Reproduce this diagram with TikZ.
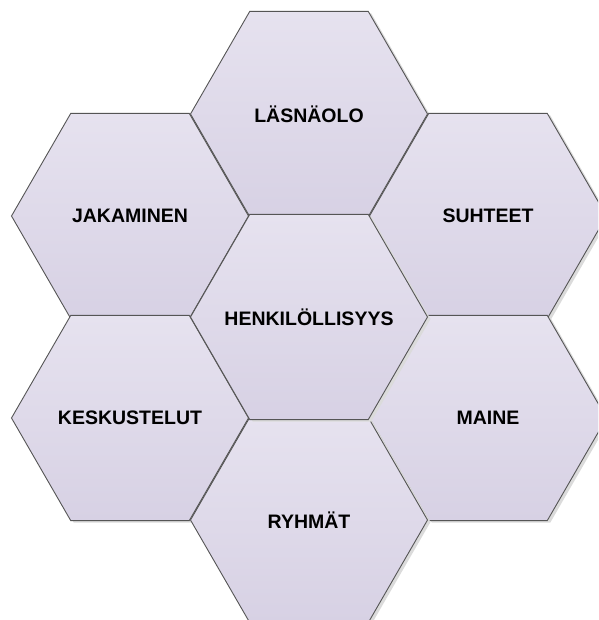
\documentclass[tikz,border=0pt]{standalone}
\usepackage{fontspec}
\setmainfont{Liberation Sans}
\usetikzlibrary{shapes.geometric, shadows}

\definecolor{hextop}{HTML}{E6E2EF}
\definecolor{hexbot}{HTML}{D7D1E4}
\definecolor{hexline}{HTML}{555555}

% keep long labels from widening the hexagon
\newcommand{\hextext}[1]{\makebox[0pt]{#1}}

\begin{document}
\begin{tikzpicture}[
    x=1pt, y=-1pt,
    hexcell/.style={regular polygon, regular polygon sides=6,
                    minimum size=237pt, inner sep=0pt,
                    draw=hexline, line width=0.9pt,
                    top color=hextop, bottom color=hexbot,
                    drop shadow={shadow xshift=3pt, shadow yshift=-2pt,
                                 fill=black!14, opacity=1},
                    font=\fontsize{19.5}{23}\selectfont\bfseries}
]
  \clip (0,0) rectangle (598,620);
  \fill[white] (0,0) rectangle (598,620);

  % outer ring
  \node[hexcell] (jak) at (130,216) {\hextext{JAKAMINEN}};
  \node[hexcell] (las) at (309,114) {\hextext{LÄSNÄOLO}};
  \node[hexcell] (suh) at (488,216) {\hextext{SUHTEET}};
  \node[hexcell] (kes) at (130,418) {\hextext{KESKUSTELUT}};
  \node[hexcell] (mai) at (488,418) {\hextext{MAINE}};
  \node[hexcell] (ryh) at (309,520) {\hextext{RYHMÄT}};

  % centre
  \node[hexcell] (hen) at (309,317) {\hextext{HENKILÖLLISYYS}};
\end{tikzpicture}
\end{document}
